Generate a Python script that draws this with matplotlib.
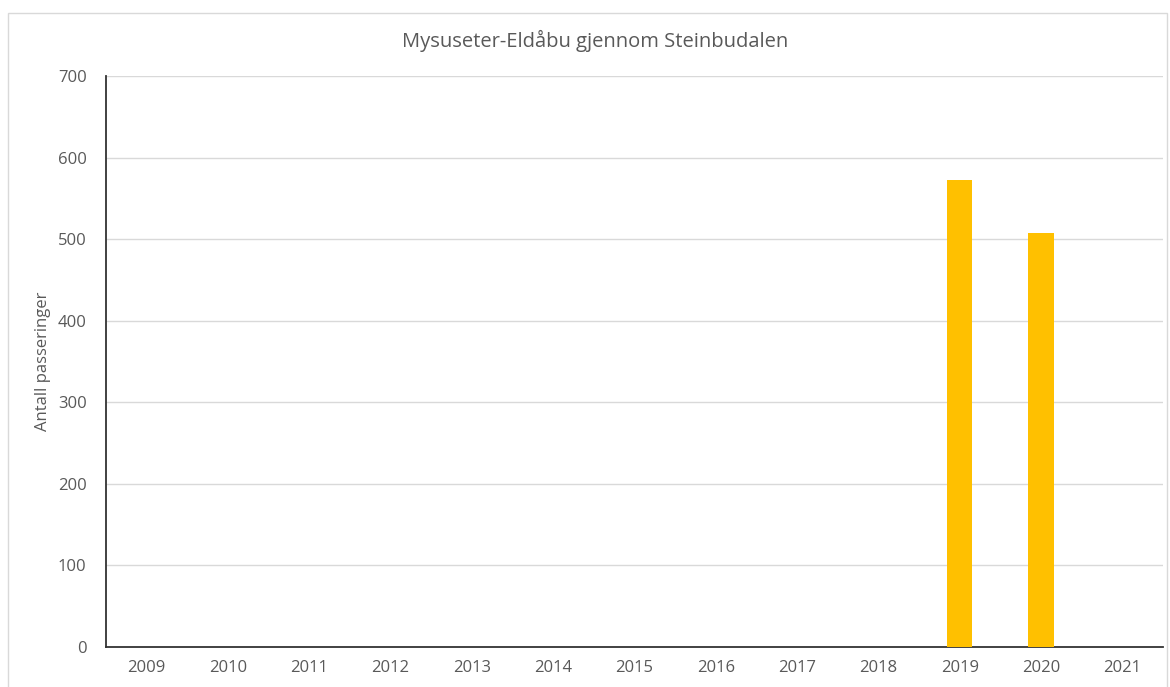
import matplotlib
matplotlib.use("Agg")
import matplotlib.pyplot as plt
from matplotlib.patches import Rectangle

years = ["2009", "2010", "2011", "2012", "2013", "2014", "2015", "2016", "2017", "2018", "2019", "2020", "2021"]
passeringer = [0, 0, 0, 0, 0, 0, 0, 0, 0, 0, 572, 508, 0]
yticks = [0, 100, 200, 300, 400, 500, 600, 700]

plt.rcParams['font.family'] = ['Open Sans', 'DejaVu Sans']
W, H = 1170, 687
fig = plt.figure(figsize=(W/100, H/100), dpi=100)
ax = fig.add_axes([106/W, 1-647/H, (1163-106)/W, (647-76)/H])

txt = '#595959'
x = list(range(len(years)))
ax.bar(x, passeringer, width=0.31, color='#FFC000', zorder=3)
ax.set_xlim(-0.5, len(years)-0.5)
ax.set_ylim(0, 700)
ax.set_yticks(yticks)
ax.set_xticks(x)
ax.set_xticklabels(years)
ax.tick_params(axis='both', length=0, colors=txt, labelsize=12)
ax.tick_params(axis='x', pad=9)
ax.tick_params(axis='y', pad=14)
ax.yaxis.grid(True, color='#d9d9d9', linewidth=1, zorder=0)
for s in ['top', 'right']:
    ax.spines[s].set_visible(False)
ax.spines['left'].set_color('#333333')
ax.spines['bottom'].set_color('#333333')
ax.spines['left'].set_linewidth(1.3)
ax.spines['bottom'].set_linewidth(1.3)
ax.set_ylabel('Antall passeringer', color=txt, fontsize=12)
ax.yaxis.set_label_coords((51-106)/(1163-106), 0.5)

fig.text((405+786)/2/W, 1-41/H, 'Mysuseter-Eldåbu gjennom Steinbudalen', ha='center', va='center',
         fontsize=14.5, color=txt)

fig.patches.append(Rectangle((8/W, -0.05), (1167-8)/W, 1.05-13/H, transform=fig.transFigure,
                             fill=False, edgecolor='#d9d9d9', linewidth=1))

fig.savefig('out.png', dpi=100)
